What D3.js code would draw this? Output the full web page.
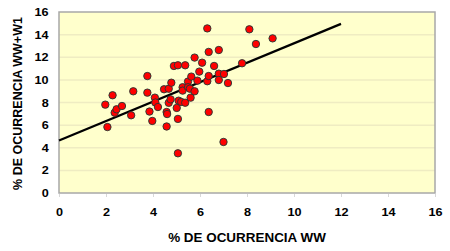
<!DOCTYPE html>
<html>
<head>
<meta charset="utf-8">
<script src="https://cdn.jsdelivr.net/npm/d3@7"></script>
<style>
  body { margin: 0; background: #fff; }
  text { font-family: "Liberation Sans", Arial, sans-serif; font-weight: bold; fill: #000; }
</style>
</head>
<body>
<div id="chart"></div>
<script>
// % de ocurrencia WW (x) vs WW+W1 (y)
var xValues = [1.97, 2.06, 2.28, 2.37, 2.45, 2.68, 3.07, 3.16, 3.76, 3.76,
  3.85, 3.97, 4.08, 4.10, 4.21, 4.47, 4.58, 4.60, 4.58, 4.67,
  4.67, 4.75, 4.78, 4.89, 5.01, 5.06, 5.06, 5.06, 5.09, 5.20,
  5.26, 5.26, 5.37, 5.37, 5.49, 5.49, 5.57, 5.60, 5.63, 5.77,
  5.77, 5.89, 5.97, 6.09, 6.31, 6.31, 6.37, 6.37, 6.37, 6.60,
  6.80, 6.80, 7.02, 6.80, 7.19, 7.00, 7.79, 8.10, 8.38, 9.09];
var yValues = [7.81, 5.83, 8.64, 7.10, 7.40, 7.69, 6.87, 8.99, 10.34, 8.87,
  7.20, 6.37, 8.43, 8.00, 7.60, 9.17, 7.16, 6.98, 5.88, 9.22,
  7.97, 8.28, 9.75, 11.23, 7.52, 11.29, 6.55, 3.51, 8.16, 8.05,
  9.35, 9.05, 11.29, 7.98, 9.85, 9.35, 9.22, 8.43, 10.29, 11.97,
  8.99, 9.93, 10.73, 11.52, 14.55, 9.88, 12.47, 10.34, 7.16, 11.23,
  12.64, 10.55, 10.52, 9.99, 9.72, 4.51, 11.47, 14.47, 13.17, 13.67];
// linear trend line ends
var trendX = [0, 12];
var trendY = [4.65, 14.95];
var xTicks = [0, 2, 4, 6, 8, 10, 12, 14, 16];
var yTicks = [0, 2, 4, 6, 8, 10, 12, 14, 16];

var width = 450, height = 251;
var margin = {left: 59, top: 12, right: 15, bottom: 58};

var svg = d3.select("#chart").append("svg")
  .attr("width", width)
  .attr("height", height);

var x = d3.scaleLinear().domain([0, 16]).range([margin.left, width - margin.right]);
var y = d3.scaleLinear().domain([0, 16]).range([height - margin.bottom, margin.top]);

/** plot area */
svg.append("rect")
  .attr("x", x(0))
  .attr("y", y(16))
  .attr("width", x(16) - x(0))
  .attr("height", y(0) - y(16))
  .style("fill", "#ffffcc");

/** gridlines */
svg.append("g")
  .selectAll("line")
  .data(yTicks.slice(1, -1))
  .enter().append("line")
  .attr("x1", x(0)).attr("x2", x(16))
  .attr("y1", function(d) { return y(d); })
  .attr("y2", function(d) { return y(d); })
  .style("stroke", "#efecc2")
  .style("stroke-width", 1.5);

/** border */
svg.append("rect")
  .attr("x", x(0))
  .attr("y", y(16))
  .attr("width", x(16) - x(0))
  .attr("height", y(0) - y(16))
  .style("fill", "none")
  .style("stroke", "#a8a8a8")
  .style("stroke-width", 1.5);

/** axes */
var xAxis = d3.axisBottom(x).tickValues(xTicks).tickSize(3).tickPadding(11);
var gx = svg.append("g")
  .attr("transform", "translate(0," + (y(0) + 1) + ")")
  .call(xAxis);
gx.select(".domain").remove();
gx.selectAll(".tick line").style("stroke", "#d8d8d8");
gx.selectAll("text")
  .style("font-size", "11px").style("font-family", "Liberation Sans, Arial, sans-serif").style("font-weight", "bold")
  .attr("transform", "scale(1.15,1)");

var yAxis = d3.axisLeft(y).tickValues(yTicks).tickSize(0).tickPadding(9);
var gy = svg.append("g")
  .attr("transform", "translate(" + x(0) + ",0)")
  .call(yAxis);
gy.select(".domain").remove();
gy.selectAll("text")
  .style("font-size", "11px").style("font-family", "Liberation Sans, Arial, sans-serif").style("font-weight", "bold")
  .attr("transform", "scale(1.15,1)");

/** trend line */
svg.append("line")
  .attr("x1", x(trendX[0])).attr("y1", y(trendY[0]))
  .attr("x2", x(trendX[1])).attr("y2", y(trendY[1]))
  .style("stroke", "#000")
  .style("stroke-width", 2.2);

/** points */
svg.append("g")
  .selectAll("circle")
  .data(xValues.map(function(d, i) { return [d, yValues[i]]; }))
  .enter().append("circle")
  .attr("cx", function(d) { return x(d[0]); })
  .attr("cy", function(d) { return y(d[1]); })
  .attr("r", 3.7)
  .style("fill", "#ff0000")
  .style("stroke", "#1f3a36")
  .style("stroke-width", 0.9);

/** titles */
svg.append("text")
  .attr("transform", "translate(" + ((x(0) + x(16)) / 2) + ",242) scale(1.12,1)")
  .attr("text-anchor", "middle")
  .style("font-size", "12px")
  .text("% DE OCURRENCIA WW");

svg.append("text")
  .attr("transform", "translate(22," + ((y(0) + y(16)) / 2 + 1) + ") rotate(-90)")
  .attr("text-anchor", "middle")
  .style("font-size", "12.5px")
  .text("% DE OCURRENCIA WW+W1");
</script>
</body>
</html>
